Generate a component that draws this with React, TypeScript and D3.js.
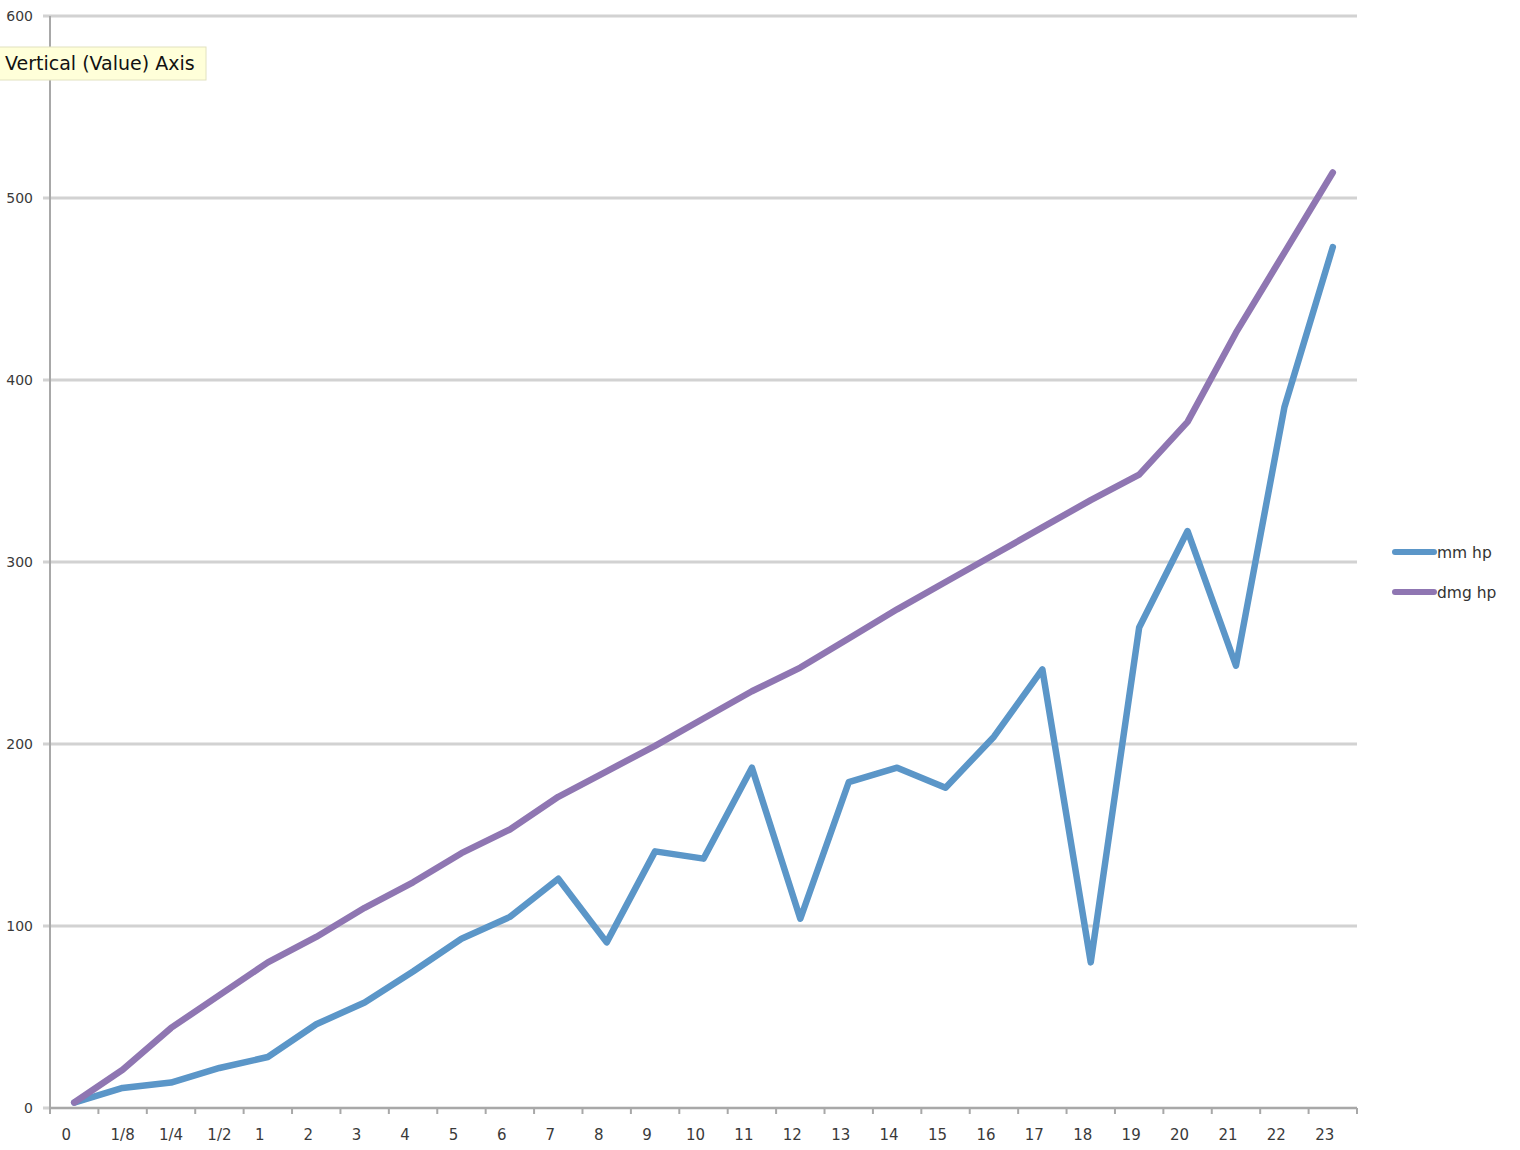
import React from "react";
import * as d3 from "d3";

const categories = ["0", "1/8", "1/4", "1/2", "1", "2", "3", "4", "5", "6", "7", "8", "9", "10", "11", "12", "13", "14", "15", "16", "17", "18", "19", "20", "21", "22", "23"];
const mmHp = [3, 11, 14, 22, 28, 46, 58, 75, 93, 105, 126, 91, 141, 137, 187, 104, 179, 187, 176, 204, 241, 80, 264, 317, 243, 385, 473];
const dmgHp = [3, 21, 44, 62, 80, 94, 110, 124, 140, 153, 171, 185, 199, 214, 229, 242, 258, 274, 289, 304, 319, 334, 348, 377, 426, 470, 514];
const yTicks = [0, 100, 200, 300, 400, 500, 600];
const seriesNames = ["mm hp", "dmg hp"];
const seriesColors = ["#5b96c8", "#8f76b2"];

export default function App() {
  const left = 50, right = 1357, top = 16, bottom = 1108;
  const x = d3.scaleBand<string>().domain(categories).range([left, right]).paddingInner(0).paddingOuter(0);
  const y = d3.scaleLinear().domain([0, 600]).range([bottom, top]);
  const cx = (c: string) => (x(c) as number) + x.bandwidth() / 2;
  const line = d3.line<number>().x((_, i) => cx(categories[i])).y((d) => y(d));
  const series = [mmHp, dmgHp];
  const font = "'DejaVu Sans', Verdana, sans-serif";
  const boundaries = categories.map((c) => x(c) as number).concat([right]);

  return (
    <svg width={1520} height={1150} style={{ position: "absolute", left: 0, top: 0, background: "#fff" }}>
      <rect x={0} y={0} width={1520} height={1150} fill="#fff" />
      {yTicks.map((t) => (
        <g key={t}>
          <line x1={43} x2={right} y1={y(t)} y2={y(t)} stroke="#d2d2d2" strokeWidth={3} />
          <text x={33} y={y(t) + 5} textAnchor="end" fontFamily={font} fontSize={14} fill="#3a3a3a">{t}</text>
        </g>
      ))}
      <line x1={left} x2={left} y1={top} y2={bottom} stroke="#a8a8a8" strokeWidth={2} />
      <line x1={left} x2={right} y1={bottom} y2={bottom} stroke="#a8a8a8" strokeWidth={2} />
      {boundaries.map((b, i) => (
        <line key={i} x1={b} x2={b} y1={bottom} y2={bottom + 6} stroke="#a8a8a8" strokeWidth={2} />
      ))}
      {categories.map((c) => (
        <text key={c} x={cx(c) - (c.includes("/") ? 0 : 8)} y={1140} textAnchor="middle" fontFamily={font} fontSize={15} fill="#3a3a3a">{c}</text>
      ))}
      {series.map((s, i) => (
        <path key={i} d={line(s) as string} fill="none" stroke={seriesColors[i]} strokeWidth={6.5} strokeLinejoin="round" strokeLinecap="round" />
      ))}
      {seriesNames.map((n, i) => (
        <g key={n}>
          <line x1={1395} x2={1434} y1={552 + i * 40} y2={552 + i * 40} stroke={seriesColors[i]} strokeWidth={6} strokeLinecap="round" />
          <text x={1437} y={557 + i * 40 + 1} fontFamily={font} fontSize={15.5} fill="#333">{n}</text>
        </g>
      ))}
      <rect x={-1} y={47} width={207} height={33} fill="#ffffd9" stroke="#e2e2c0" strokeWidth={1} />
      <text x={5} y={70} fontFamily={font} fontSize={19} fill="#111">Vertical (Value) Axis</text>
    </svg>
  );
}
